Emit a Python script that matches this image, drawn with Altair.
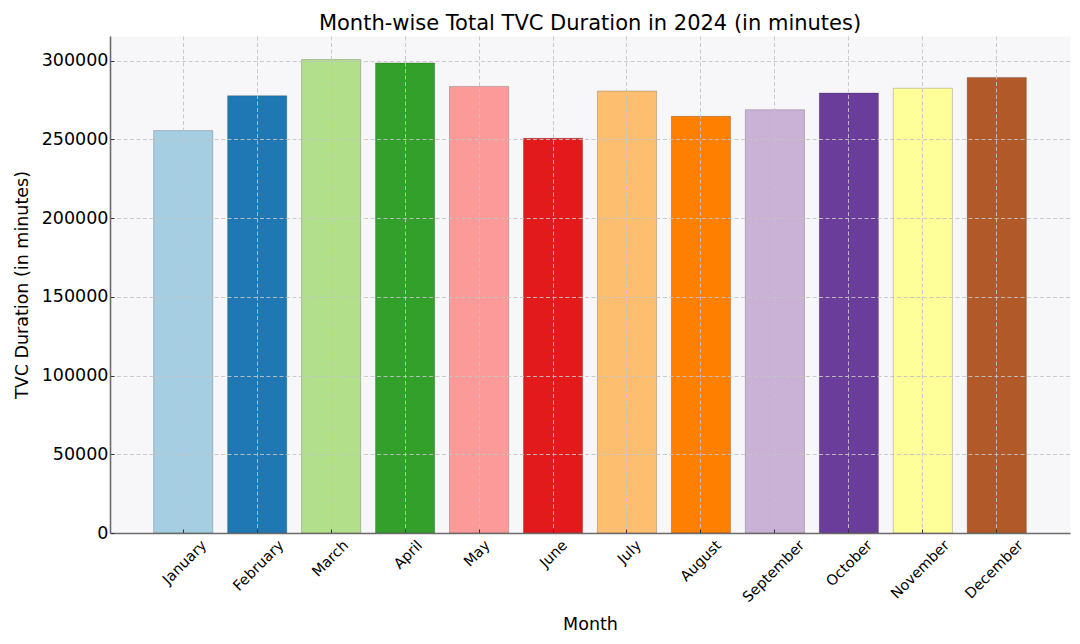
import altair as alt
import pandas as pd

months = ["January", "February", "March", "April", "May", "June",
          "July", "August", "September", "October", "November", "December"]
durations = [255600, 277800, 300700, 298600, 283700, 250700,
             280800, 264700, 268900, 279500, 282500, 289400]
bar_colors = ["#a6cee3", "#1f78b4", "#b2df8a", "#33a02c", "#fb9a99", "#e31a1c",
              "#fdbf6f", "#ff7f00", "#cab2d6", "#6a3d9a", "#ffff99", "#b15928"]
y_ticks = [0, 50000, 100000, 150000, 200000, 250000, 300000]

df = pd.DataFrame({"Month": months, "Duration": durations})

FONT = "DejaVu Sans"
GRID = "#c4c4c4"

x_axis = alt.Axis(
    title="Month", titleFont=FONT, titleFontSize=17.5, titleFontWeight="normal",
    titleColor="black", titleX=480, titleY=96, titleBaseline="alphabetic", titleAlign="center",
    labelAngle=315, labelAlign="right", labelBaseline="top", labelFont=FONT,
    labelFontSize=14.5, labelColor="black", labelPadding=9,
    labelOffset={"expr": "0.354 * (length(datum.label) * 8.7 - 14.5)"},
    labelOverlap=False, labelFlush=False, labelBound=False,
    tickSize={"expr": "-4"}, tickColor="#333333", tickWidth=1,
    domainColor="#6b6b6b", domainWidth=1.6,
    grid=True, gridColor=GRID, gridDash=[4, 2.5], gridWidth=0.9,
    bandPosition=0.5, zindex=1,
)

y_axis = alt.Axis(
    title="TVC Duration (in minutes)", titleFont=FONT, titleFontSize=17.5,
    titleFontWeight="normal", titleColor="black", titleX=-83, titleY=248.5,
    titleAngle=270, titleBaseline="alphabetic", titleAlign="center",
    values=y_ticks, format="d", labelFont=FONT, labelFontSize=17.5, labelColor="black",
    labelPadding=6, labelOverlap=False, labelFlush=False, labelBound=False,
    tickSize={"expr": "-4"}, tickColor="#333333", tickWidth=1,
    domainColor="#6b6b6b", domainWidth=1.6,
    grid=True, gridColor=GRID, gridDash=[4, 2.5], gridWidth=0.9, zindex=1,
)

chart = alt.Chart(df).mark_bar(stroke="black", strokeOpacity=0.2, strokeWidth=1).encode(
    x=alt.X("Month:N", sort=months,
            scale=alt.Scale(paddingInner=0.2, paddingOuter=0.59), axis=x_axis),
    y=alt.Y("Duration:Q", scale=alt.Scale(domain=[0, 315700], nice=False, zero=True), axis=y_axis),
    color=alt.Color("Month:N", sort=months,
                    scale=alt.Scale(domain=months, range=bar_colors), legend=None),
).properties(
    width=960, height=497,
    title=alt.TitleParams("Month-wise Total TVC Duration in 2024 (in minutes)",
                          font=FONT, fontSize=21, fontWeight="normal", color="black",
                          anchor="middle", frame="group", offset=4, baseline="bottom", dy=23),
    autosize=alt.AutoSizeParams(type="none"),
    padding={"left": 102, "top": 28, "right": 2, "bottom": 103},
    background="white",
).configure_view(fill="#f7f7f9", stroke="transparent")

chart.save("out.html", embed_options={"renderer": "svg", "actions": False})
